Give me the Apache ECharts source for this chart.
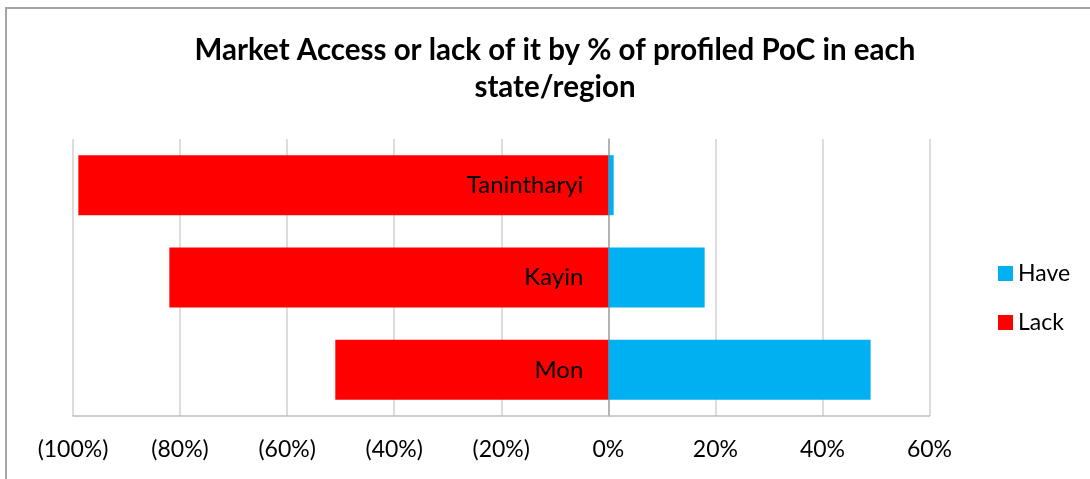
<!DOCTYPE html>
<html>
<head>
<meta charset="utf-8">
<script src="https://cdn.jsdelivr.net/npm/echarts@6/dist/echarts.min.js"></script>
<style>
  html, body { margin: 0; padding: 0; background: #fff; }
  #chart { width: 1090px; height: 479px; }
</style>
</head>
<body>
<div id="chart"></div>
<script>
// state/region, bottom to top
var regions = ['Mon', 'Kayin', 'Tanintharyi'];
var haveData = [49, 18, 1];
var lackData = [-51, -82, -99];

var chart = echarts.init(document.getElementById('chart'));

var fontFam = 'Lato';

var option = {
  animation: false,
  backgroundColor: '#fff',
  title: {
    text: 'Market Access or lack of it by % of profiled PoC in each\nstate/region',
    left: 550,
    top: 27,
    textAlign: 'center',
    textStyle: {
      fontFamily: fontFam,
      fontWeight: 'bold',
      fontSize: 29.5,
      lineHeight: 37,
      color: '#000'
    }
  },
  legend: {
    orient: 'vertical',
    left: 993,
    top: 257,
    itemWidth: 15,
    itemHeight: 15,
    itemGap: 26,
    icon: 'rect',
    data: ['Have', 'Lack'],
    textStyle: { fontFamily: fontFam, fontSize: 23, color: '#000' }
  },
  graphic: [{
    type: 'rect',
    shape: { x: 6, y: 8, width: 1200, height: 600 },
    style: { fill: 'none', stroke: '#a6a6a6', lineWidth: 2 },
    z: -1
  }],
  grid: {
    left: 73,
    right: 160.5,
    top: 139,
    bottom: 63,
    containLabel: false,
    outerBoundsMode: 'none'
  },
  xAxis: {
    type: 'value',
    min: -100,
    max: 60,
    interval: 20,
    axisLine: { show: true, lineStyle: { color: '#bfbfbf', width: 1.5 } },
    axisTick: { show: false },
    splitLine: { lineStyle: { color: '#d0d0d0', width: 1.5 } },
    axisLabel: {
      margin: 22,
      fontFamily: fontFam,
      fontSize: 23,
      color: '#000',
      formatter: function (v) {
        return v < 0 ? '(' + (-v) + '%)' : v + '%';
      }
    }
  },
  yAxis: {
    type: 'category',
    data: regions,
    axisLine: { onZero: true, lineStyle: { color: '#a6a6a6', width: 1.5 } },
    axisTick: { show: false },
    axisLabel: { show: false }
  },
  series: [{
    name: 'Have',
    type: 'bar',
    stack: 'all',
    barCategoryGap: '35%',
    itemStyle: { color: '#00b0f0' },
    data: haveData
  }, {
    name: 'Lack',
    type: 'bar',
    stack: 'all',
    barCategoryGap: '35%',
    itemStyle: { color: '#ff0000' },
    label: {
      show: true,
      position: 'insideRight',
      distance: 25,
      formatter: '{b}',
      fontFamily: fontFam,
      fontSize: 24,
      color: '#000'
    },
    data: lackData
  }]
};

chart.setOption(option);
</script>
</body>
</html>
